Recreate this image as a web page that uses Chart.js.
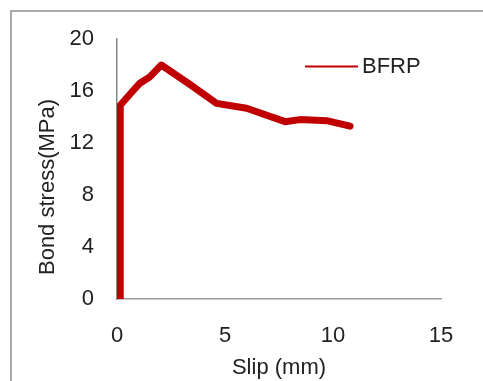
<!DOCTYPE html>
<html>
<head>
<meta charset="utf-8">
<script src="https://cdn.jsdelivr.net/npm/chart.js@4/dist/chart.umd.min.js"></script>
<style>
  html, body { margin: 0; padding: 0; background: #fff; overflow: hidden; }
  #wrap { position: relative; width: 483px; height: 381px; }
  #frame { position: absolute; left: 10px; top: 10px; width: 600px; height: 600px;
           border-left: 2px solid #a9a9a9; border-top: 2px solid #a9a9a9; }
  canvas { position: absolute; left: 0; top: 0; }
</style>
</head>
<body>
<div id="wrap">
  <div id="frame"></div>
  <canvas id="c" width="483" height="381"></canvas>
</div>
<script>
const seriesLabel = "BFRP";
const slip   = [0.15, 0.15, 0.68, 1.06, 1.53, 2.05, 3.38, 4.61, 6.0, 7.78, 8.47, 9.7, 10.79];
const stress = [0, 14.9, 15.9, 16.6, 17.1, 18.0, 16.5, 15.05, 14.67, 13.64, 13.8, 13.72, 13.3];
const xTicks = [0, 5, 10, 15];
const yTicks = [0, 4, 8, 12, 16, 20];
const xTitle = "Slip (mm)";
const yTitle = "Bond stress(MPa)";

const FONT = "'Liberation Sans', Arial, sans-serif";
const RED = "#C00000";
const TXT = "#222222";

const points = slip.map((s, i) => ({ x: s, y: stress[i] }));

const overlay = {
  id: 'overlay',
  afterDraw(chart) {
    const ctx = chart.ctx;
    ctx.save();
    // legend
    ctx.strokeStyle = RED;
    ctx.lineWidth = 2;
    ctx.beginPath();
    ctx.moveTo(305, 66.5);
    ctx.lineTo(358, 66.5);
    ctx.stroke();
    ctx.fillStyle = TXT;
    ctx.font = "22px " + FONT;
    ctx.textAlign = 'left';
    ctx.textBaseline = 'middle';
    ctx.fillText(chart.data.datasets[0].label, 362, 67);
    // y title
    ctx.translate(48, 187);
    ctx.rotate(-Math.PI / 2);
    ctx.textAlign = 'center';
    ctx.fillText(yTitle, 0, 0);
    ctx.restore();
  }
};

new Chart(document.getElementById('c'), {
  type: 'scatter',
  data: {
    datasets: [{
      label: seriesLabel,
      data: points,
      showLine: true,
      borderColor: RED,
      backgroundColor: RED,
      borderWidth: 7,
      borderCapStyle: 'round',
      borderJoinStyle: 'round',
      pointRadius: 0,
      tension: 0
    }]
  },
  options: {
    responsive: false,
    animation: false,
    devicePixelRatio: 1,
    layout: { padding: { top: 39, right: 42, left: 0, bottom: 0 } },
    plugins: { legend: { display: false }, tooltip: { enabled: false } },
    scales: {
      x: {
        type: 'linear', min: 0, max: 15,
        afterBuildTicks(s) { s.ticks = xTicks.map(v => ({ value: v })); },
        afterFit(s) { s.height = 82; },
        grid: { display: false, drawTicks: false },
        border: { display: true, color: '#999999', width: 1.5 },
        ticks: { padding: 24, color: TXT, font: { family: FONT, size: 22 } },
        title: { display: true, text: xTitle, color: TXT, padding: 0, font: { family: FONT, size: 22 } }
      },
      y: {
        type: 'linear', min: 0, max: 20,
        afterBuildTicks(s) { s.ticks = yTicks.map(v => ({ value: v })); },
        afterFit(s) { s.width = 117; },
        grid: { display: false, drawTicks: false },
        border: { display: true, color: '#888888', width: 1.5 },
        ticks: { padding: 23, color: TXT, font: { family: FONT, size: 22 } }
      }
    }
  },
  plugins: [overlay]
});
</script>
</body>
</html>
